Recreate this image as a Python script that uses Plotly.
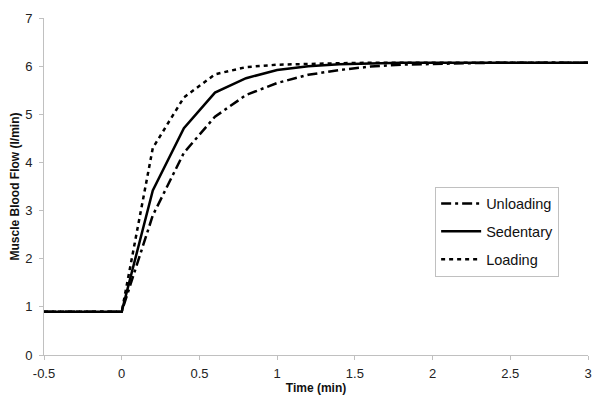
import plotly.graph_objects as go

time_min = [-0.5, 0, 0.2, 0.4, 0.6, 0.8, 1.0, 1.2, 1.4, 1.6, 1.8, 2.0, 2.2, 2.4, 2.6, 2.8, 3.0]
unloading = [0.9, 0.9, 2.9, 4.2, 4.95, 5.4, 5.65, 5.82, 5.92, 5.99, 6.03, 6.05, 6.06, 6.07, 6.07, 6.07, 6.07]
sedentary = [0.9, 0.9, 3.42, 4.71, 5.45, 5.75, 5.92, 6.0, 6.04, 6.06, 6.07, 6.07, 6.07, 6.07, 6.07, 6.07, 6.07]
loading = [0.9, 0.9, 4.3, 5.35, 5.83, 5.98, 6.03, 6.05, 6.06, 6.07, 6.07, 6.07, 6.07, 6.07, 6.07, 6.07, 6.07]

x_ticks = [-0.5, 0, 0.5, 1, 1.5, 2, 2.5, 3]
y_ticks = [0, 1, 2, 3, 4, 5, 6, 7]

fig = go.Figure()
fig.add_trace(go.Scatter(x=time_min, y=unloading, mode="lines", name="Unloading", legendgroup="u",
                         line=dict(color="black", width=2.5, dash="10px,4px,3px,4px")))
fig.add_trace(go.Scatter(x=time_min, y=sedentary, mode="lines", name="Sedentary", legendgroup="s",
                         line=dict(color="black", width=2.5)))
fig.add_trace(go.Scatter(x=time_min, y=loading, mode="lines", name="Loading", legendgroup="l",
                         line=dict(color="black", width=2.5, dash="4px,4px")))

FONT = "Liberation Sans, Arial"
axis_common = dict(showgrid=False, zeroline=False, showline=True, linecolor="#c0c0c0", linewidth=1,
                   ticks="outside", ticklen=4, tickcolor="#c0c0c0", automargin=False,
                   tickfont=dict(family=FONT, size=13, color="#222"))

fig.update_layout(
    width=600, height=409,
    margin=dict(l=44, r=12, t=18, b=54),
    paper_bgcolor="white", plot_bgcolor="white",
    xaxis=dict(range=[-0.5, 3], tickvals=x_ticks, ticktext=[str(v) for v in x_ticks],
               ticklabelstandoff=2,
               title=dict(text="<b>Time (min)</b>", font=dict(family=FONT, size=12, color="#111"), standoff=0),
               **axis_common),
    yaxis=dict(range=[0, 7], tickvals=y_ticks, ticklabelstandoff=4,
               title=dict(text="<b>Muscle Blood Flow (l/min)</b>", font=dict(family=FONT, size=12, color="#111"), standoff=2),
               **axis_common),
    legend=dict(x=0.719, y=0.5, xanchor="left", yanchor="top",
                bordercolor="#c0c0c0", borderwidth=1, bgcolor="white",
                font=dict(family=FONT, size=14.5, color="#111"),
                itemwidth=40, entrywidth=153,
                tracegroupgap=6, traceorder="grouped"),
    showlegend=True,
)

fig.write_html("out.html", config={"displayModeBar": False},
               post_script="document.body.style.margin='0';document.body.style.overflow='hidden';")
